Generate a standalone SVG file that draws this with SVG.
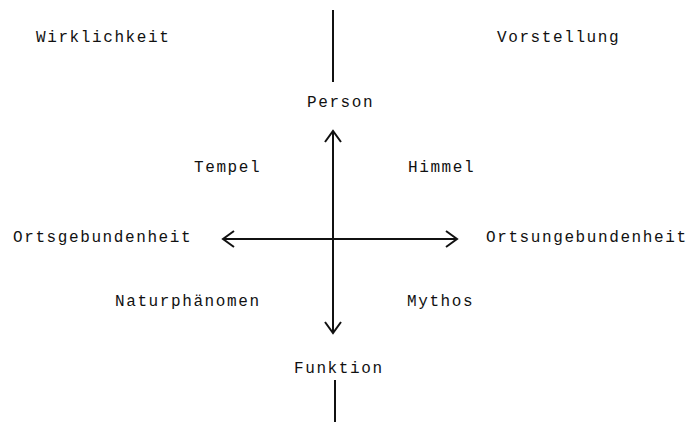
<svg xmlns="http://www.w3.org/2000/svg" width="688" height="422" viewBox="0 0 688 422">
<style>
text{font-family:"Liberation Mono","DejaVu Sans Mono",monospace;font-size:16px;letter-spacing:1.6px;fill:#111}
.ln{stroke:#111;stroke-width:2;fill:none}
</style>
<defs>
<marker id="chev" viewBox="-12 -9 14 18" markerWidth="14" markerHeight="18" refX="0" refY="0" markerUnits="userSpaceOnUse" orient="auto-start-reverse">
<path d="M-11,-8 L0,0 L-11,8" fill="none" stroke="#111" stroke-width="2"/>
</marker>
</defs>
<rect width="688" height="422" fill="#fff"/>
<g id="connectors">
<line class="ln" x1="333" y1="10" x2="333" y2="82"/>
<line class="ln" x1="333" y1="131" x2="333" y2="333" marker-start="url(#chev)" marker-end="url(#chev)"/>
<line class="ln" x1="223" y1="239" x2="457" y2="239" marker-start="url(#chev)" marker-end="url(#chev)"/>
<line class="ln" x1="335" y1="380" x2="335" y2="422"/>
</g>
<g id="wirklichkeit"><text x="36" y="42">Wirklichkeit</text></g>
<g id="vorstellung"><text x="497" y="42">Vorstellung</text></g>
<g id="person"><text x="307" y="107">Person</text></g>
<g id="tempel"><text x="194" y="172">Tempel</text></g>
<g id="himmel"><text x="408" y="172">Himmel</text></g>
<g id="ortsgebundenheit"><text x="13" y="242">Ortsgebundenheit</text></g>
<g id="ortsungebundenheit"><text x="486" y="242">Ortsungebundenheit</text></g>
<g id="naturphaenomen"><text x="115" y="306">Naturphänomen</text></g>
<g id="mythos"><text x="407" y="306">Mythos</text></g>
<g id="funktion"><text x="294" y="373">Funktion</text></g>
</svg>
